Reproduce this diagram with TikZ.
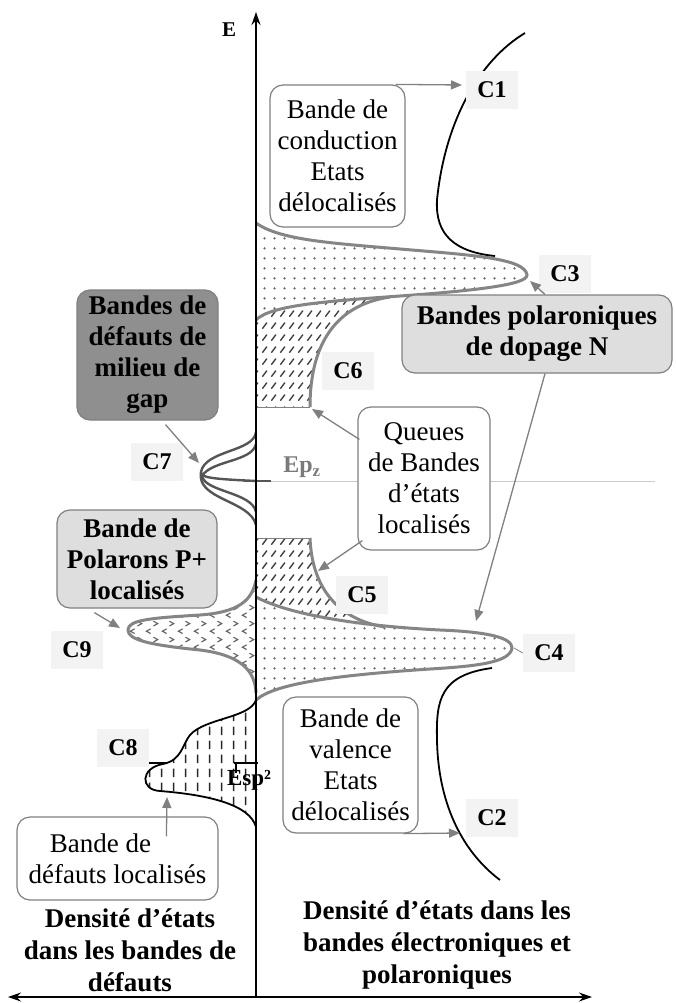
\documentclass[tikz,border=0pt]{standalone}
\usepackage{fontspec}
\setmainfont{Liberation Serif}
\usetikzlibrary{arrows.meta,patterns.meta,calc}
\definecolor{bandgray}{HTML}{858585}
\definecolor{boxdark}{HTML}{8F8F8F}
\definecolor{boxlight}{HTML}{DEDEDE}
\definecolor{lblbg}{HTML}{F3F3F3}
\definecolor{arrgray}{HTML}{808080}
\definecolor{c7gray}{HTML}{555555}
\definecolor{epgray}{HTML}{7A7A7A}
\definecolor{patgray}{HTML}{666666}
\tikzdeclarepattern{name=pdots,type=uncolored,bottom left={(0pt,0pt)},top right={(10pt,10pt)},tile size={(10pt,10pt)},
  code={\fill (5pt,5pt) circle (1.35pt);}}
\tikzdeclarepattern{name=phatch,type=uncolored,bottom left={(0pt,0pt)},top right={(9pt,12pt)},tile size={(9pt,12pt)},
  code={\draw[line width=1.5pt] (1.5pt,2.5pt) -- (6.5pt,9pt);}}
\tikzdeclarepattern{name=pchev,type=uncolored,bottom left={(0pt,0pt)},top right={(16pt,16pt)},tile size={(16pt,16pt)},
  code={\draw[line width=1.2pt] (7pt,1.5pt) -- (2.5pt,4pt) -- (7pt,6.5pt); \draw[line width=1.2pt] (10pt,9.5pt) -- (14.5pt,12pt) -- (10pt,14.5pt);}}
\tikzdeclarepattern{name=pvdash,type=uncolored,bottom left={(0pt,0pt)},top right={(12pt,14pt)},tile size={(12pt,14pt)},
  code={\draw[line width=1.5pt] (6pt,2pt) -- (6pt,11pt);}}
\begin{document}
\begin{tikzpicture}[x=1pt,y=-1pt,
  box/.style={draw=arrgray, line width=1.2pt, rounded corners=13pt, align=center, inner sep=0pt, font=\fontsize{27}{31}\selectfont},
  boxb/.style={box, font=\fontsize{27}{31}\selectfont\bfseries},
  clbl/.style={fill=lblbg, font=\fontsize{24}{28}\selectfont\bfseries, minimum width=52pt, minimum height=38pt, inner sep=0pt},
  arr/.style={draw=arrgray, line width=1.3pt, -{Triangle[length=11pt,width=9pt]}},
  bandline/.style={draw=bandgray, line width=3pt},
  blackline/.style={draw=black, line width=1.8pt},
  c7line/.style={draw=c7gray, line width=2.4pt},
  thin/.style={draw=arrgray, line width=0.8pt},
  axis/.style={draw=black, line width=1.5pt},
  bottomtxt/.style={align=center, font=\fontsize{27}{32}\selectfont\bfseries}
]
\useasboundingbox (0,0) rectangle (675,1003);
\fill[white] (0,0) rectangle (675,1003);

% ---------- pattern fills ----------
% C3 band
\fill[pattern=pdots, pattern color=patgray] (256,223) .. controls (280,240) and (330,243) .. (400,249) .. controls (470,255) and (525,258) .. (527,275) .. controls (528,285) and (470,291) .. (400,296) .. controls (330,301) and (270,305) .. (256,320) -- cycle;
% C6 hatch
\fill[pattern=phatch, pattern color=black!75] (256,320) .. controls (270,305) and (330,301) .. (390,297) .. controls (335,305) and (310,345) .. (310,407) -- (256,407) -- cycle;
% C4 band
\fill[pattern=pdots, pattern color=patgray] (256,597) .. controls (290,615) and (360,626) .. (440,630) .. controls (490,632) and (512,638) .. (512,648) .. controls (510,662) and (480,666) .. (430,669) .. controls (340,675) and (275,683) .. (256,700) -- cycle;
% C5 hatch
\fill[pattern=phatch, pattern color=black!75] (256,538) -- (310,538) .. controls (312,590) and (340,620) .. (385,627) .. controls (320,622) and (280,610) .. (256,597) -- cycle;
% C9 band
\fill[pattern=pchev, pattern color=patgray] (256,580) .. controls (252,600) and (240,612) .. (200,615) .. controls (150,618) and (128,620) .. (128,630) .. controls (128,640) and (150,645) .. (200,650) .. controls (240,655) and (255,670) .. (256,693) -- cycle;
% C8 band
\fill[pattern=pvdash, pattern color=black!85] (256,700) .. controls (250,718) and (205,718) .. (190,735) .. controls (182,745) and (182,760) .. (163,764) .. controls (140,768) and (140,790) .. (160,791) .. controls (210,795) and (250,805) .. (256,827) -- cycle;

% ---------- outlines ----------
\draw[bandline] (256,223) .. controls (280,240) and (330,243) .. (400,249) .. controls (470,255) and (525,258) .. (527,275) .. controls (528,285) and (470,291) .. (400,296) .. controls (330,301) and (270,305) .. (256,320);
\draw[bandline] (390,297) .. controls (335,305) and (310,345) .. (310,407);
\draw[thin] (256,407) -- (310,407);
\draw[bandline] (256,597) .. controls (290,615) and (360,626) .. (440,630) .. controls (490,632) and (512,638) .. (512,648) .. controls (510,662) and (480,666) .. (430,669) .. controls (340,675) and (275,683) .. (256,700);
\draw[bandline] (310,538) .. controls (312,590) and (340,620) .. (385,627);
\draw[thin] (256,538) -- (310,538);
\draw[bandline] (256,580) .. controls (252,600) and (240,612) .. (200,615) .. controls (150,618) and (128,620) .. (128,630) .. controls (128,640) and (150,645) .. (200,650) .. controls (240,655) and (255,670) .. (256,693);
\draw[blackline] (256,700) .. controls (250,718) and (205,718) .. (190,735) .. controls (182,745) and (182,760) .. (163,764) .. controls (140,768) and (140,790) .. (160,791) .. controls (210,795) and (250,805) .. (256,827);
% C1 and C2
\draw[blackline] (525,33) .. controls (480,60) and (445,120) .. (437,200) .. controls (435,235) and (455,252) .. (495,256);
\draw[blackline] (492,668) .. controls (440,675) and (436,700) .. (437,740) .. controls (438,800) and (460,850) .. (500,880);
% C7 lobes
\draw[c7line] (256,432) .. controls (254,452) and (205,450) .. (201,472);
\draw[c7line] (256,444) .. controls (252,462) and (212,460) .. (202,476);
\draw[c7line] (201,472) .. controls (200,478) and (215,479) .. (256,481);
\draw[c7line] (202,476) .. controls (205,492) and (252,492) .. (256,512);
\draw[c7line] (201,472) .. controls (196,500) and (250,500) .. (256,525);
% Ep_z marks
\draw[draw=gray!40, line width=0.7pt] (270,481) -- (655,481);
\draw[draw=c7gray, line width=2pt] (244,481) -- (271,481);
% C8 / Esp2 ticks
\draw[draw=black, line width=1.6pt] (146,763) -- (167,763);
\draw[draw=black, line width=1.6pt] (234,763) -- (258,763);
\draw[draw=black, line width=1.6pt] (236,763) -- (236,773);

% ---------- axes ----------
\coordinate (o) at (256,997);
\coordinate (etop) at (256,12);
\coordinate (xl) at (8,997);
\coordinate (xr) at (592,997);
\draw[axis, -{Stealth[length=13pt,width=9pt]}] (o) -- (etop);
\draw[axis, {Stealth[length=13pt,width=9pt]}-{Stealth[length=13pt,width=9pt]}] (xl) -- (xr);
\node[font=\fontsize{21}{24}\selectfont\bfseries] (elbl) at (229,30) {E};

% ---------- curve labels ----------
\node[clbl] (lc1) at (492,90) {C1};
\node[clbl] (lc3) at (565,274) {C3};
\node[clbl] (lc6) at (348,371) {C6};
\node[clbl] (lc7) at (157,462) {C7};
\node[clbl] (lc5) at (362,595) {C5};
\node[clbl] (lc9) at (77,650) {C9};
\node[clbl] (lc4) at (549,653) {C4};
\node[clbl] (lc8) at (123,748) {C8};
\node[clbl] (lc2) at (492,818) {C2};
\draw[thin] (514,648) -- (lc4.west);
\node[font=\fontsize{24}{28}\selectfont\bfseries, text=epgray] (ep) at (302,467) {Ep\textsubscript{z}};
\node[font=\fontsize{23}{26}\selectfont\bfseries] (esp) at (249,780) {Esp²};

% ---------- boxes ----------
\node[box, minimum width=135pt, minimum height=142pt, fill=white] (b1) at (337.5,156) {Bande de\\conduction\\Etats\\délocalisés};
\node[boxb, minimum width=270pt, minimum height=78pt, fill=boxlight] (b2) at (537,334) {Bandes polaroniques\\de dopage N};
\node[boxb, minimum width=141pt, minimum height=130pt, fill=boxdark] (b3) at (147.5,355) {Bandes de\\défauts de\\milieu de\\gap};
\node[box, minimum width=132pt, minimum height=143pt, fill=white] (b4) at (424,478.5) {Queues\\de Bandes\\d'états\\localisés};
\node[boxb, minimum width=160pt, minimum height=98pt, fill=boxlight] (b5) at (137,559) {Bande de\\Polarons P+\\localisés};
\node[box, minimum width=135pt, minimum height=136pt, fill=white] (b6) at (350.5,765) {Bande de\\valence\\Etats\\délocalisés};
\node[box, minimum width=201pt, minimum height=83pt, fill=white] (b7) at (117.5,858.5) {Bande de\rule{34pt}{0pt}\\défauts localisés};

% ---------- arrows ----------
\coordinate (c1p) at (462,85);
\coordinate (c3tip) at (530,281);
\coordinate (c4p) at (476,621);
\coordinate (c7tip) at (199,463);
\coordinate (c6end) at (312,409);
\coordinate (c5p) at (318,571);
\coordinate (c9tip) at (120,628);
\coordinate (c8b) at (167,797);
\coordinate (c2p) at (460,833);
\draw[arr] ($(b1.north east)+(-10,0)$) -- (c1p);
\draw[arr] ($(b2.north)+(8,0)$) -- (c3tip);
\draw[arr] ($(b2.south)+(8,0)$) -- (c4p);
\draw[arr] ($(b3.south)+(18,4)$) -- (c7tip);
\draw[arr] ($(b4.north west)+(2,33)$) -- (c6end);
\draw[arr] ($(b4.south west)+(5,-10)$) -- (c5p);
\draw[arr] ($(b5.south west)+(38,4)$) -- (c9tip);
\draw[arr] ($(b7.north west)+(150,20)$) -- (c8b);
\draw[arr] ($(b6.south east)+(-15,0)$) -- (c2p);

% ---------- bottom texts ----------
\node[bottomtxt] (tl) at (130,950) {Densité d'états\\dans les bandes de\\défauts};
\node[bottomtxt] (tr) at (437,945) {Densité d'états dans les\\bandes électroniques et\\polaroniques};
\end{tikzpicture}
\end{document}
